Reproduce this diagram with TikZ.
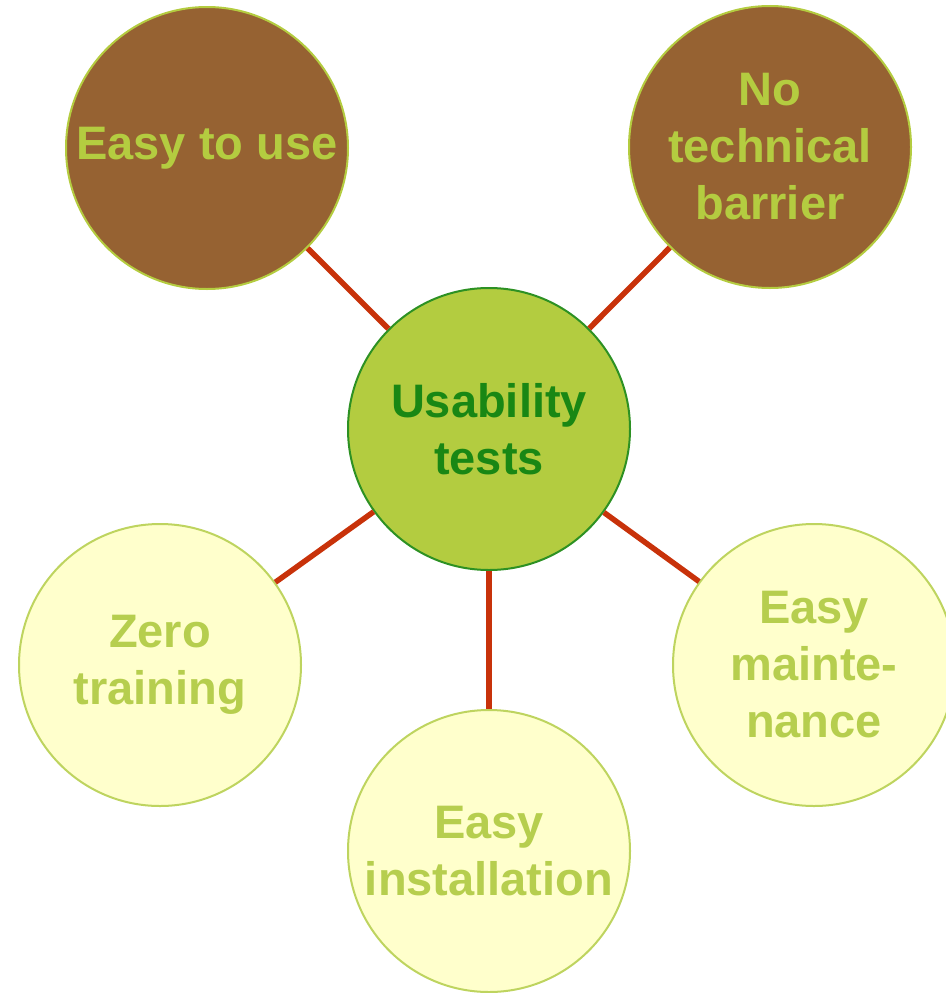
\documentclass[tikz,border=0pt]{standalone}
\usepackage{fontspec}
\setmainfont{Liberation Sans}
\usetikzlibrary{positioning}

\definecolor{barkbrown}{RGB}{150, 98, 50}
\definecolor{limegreen1}{RGB}{180, 204, 64}
\definecolor{hubgreen}{RGB}{179, 204, 64}
\definecolor{hubrim}{RGB}{45, 145, 35}
\definecolor{hubtext}{RGB}{25, 135, 20}
\definecolor{paleyellow}{RGB}{255, 255, 204}
\definecolor{palerim}{RGB}{190, 212, 95}
\definecolor{paletext}{RGB}{182, 206, 78}
\definecolor{linkred}{RGB}{200, 50, 10}

\tikzset{
  bubble/.style={circle, minimum size=282pt, inner sep=0pt, align=center,
    font=\fontsize{47}{57}\selectfont\bfseries, line width=2pt},
  brownbubble/.style={bubble, draw=limegreen1, fill=barkbrown, text=limegreen1},
  palebubble/.style={bubble, draw=palerim, fill=paleyellow, text=paletext},
  hubbubble/.style={bubble, draw=hubrim, fill=hubgreen, text=hubtext},
  linkline/.style={draw=linkred, line width=5.5pt}
}

\begin{document}
\begin{tikzpicture}[x=1pt, y=-1pt]
  \useasboundingbox (0, 0) rectangle (945, 993);

  % Hub
  \node[hubbubble] (hub) at (489, 429) {Usability\\tests};

  % Top row
  \node[brownbubble] (ease) at (207, 148) {Easy to use};
  \node[brownbubble] (barrier) at (770, 147) {No\\technical\\barrier};

  % Bottom row
  \node[palebubble] (training) at (160, 665) {Zero\\training};
  \node[palebubble] (install) at (489, 851) {Easy\\installation};
  \node[palebubble] (maint) at (814, 665) {Easy\\mainte-\\nance};

  % Links
  \draw[linkline] (hub) -- (ease);
  \draw[linkline] (hub) -- (barrier);
  \draw[linkline] (hub) -- (training);
  \draw[linkline] (hub) -- (install);
  \draw[linkline] (hub) -- (maint);
\end{tikzpicture}
\end{document}
